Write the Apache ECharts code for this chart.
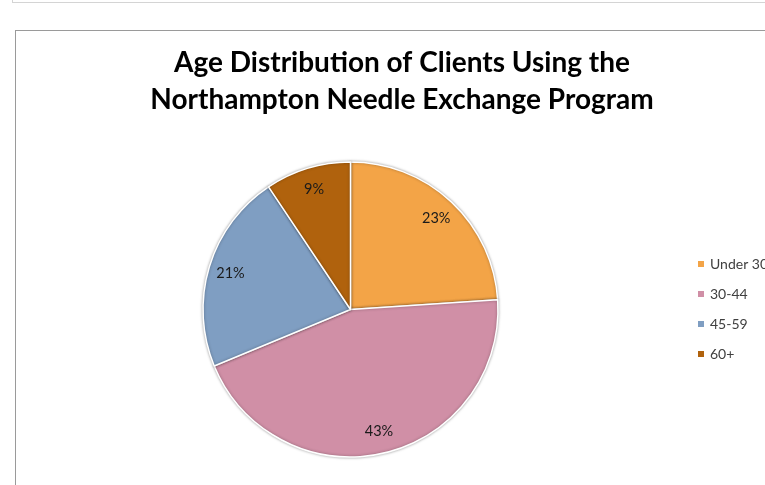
<!DOCTYPE html>
<html><head><meta charset="utf-8">
<script src="https://cdn.jsdelivr.net/npm/echarts@6/dist/echarts.min.js"></script>
<style>
html,body{margin:0;padding:0;background:#fff;overflow:hidden}
#topbox{position:absolute;left:12px;top:-10px;width:800px;height:13px;border:1px solid #d4d4d4;box-sizing:border-box}
#chartbox{position:absolute;left:15px;top:30px;width:800px;height:500px;border:1px solid #9a9a9a;box-sizing:border-box}
#main{position:absolute;left:0;top:0;width:765px;height:485px}
</style></head>
<body>
<div id="topbox"></div>
<div id="chartbox"></div>
<div id="main"></div>
<script>
const titleLines = ['Age Distribution of Clients Using the', 'Northampton Needle Exchange Program'];
const categories = ['Under 30', '30-44', '45-59', '60+'];
const values = [23, 43, 21, 9];
const colors = ['#F3A447', '#D08FA6', '#7F9EC2', '#B0620D'];

const chart = echarts.init(document.getElementById('main'), null, {renderer: 'canvas'});
const data = categories.map((c, i) => ({name: c, value: values[i], itemStyle: {color: colors[i]}}));
const cx = 350.5, cy = 309.5, R = 147.5;
chart.setOption({
  animation: false,
  title: {
    text: titleLines.join('\n'),
    left: 402, top: 44, textAlign: 'center', padding: 0,
    textStyle: {fontFamily: 'Lato', fontWeight: 'bold', fontSize: 28, color: '#000', lineHeight: 37}
  },
  legend: {
    orient: 'vertical', left: 691, top: 252,
    itemWidth: 8, itemHeight: 8, itemGap: 16, icon: 'rect',
    textStyle: {fontFamily: 'Lato', fontSize: 14, color: '#404040'},
    data: categories
  },
  series: [
    {
      type: 'pie', center: [cx, cy], radius: [0, R], startAngle: 90, clockwise: true,
      label: {show: false}, labelLine: {show: false},
      itemStyle: {borderColor: '#fff', borderWidth: 1.5, shadowBlur: 3, shadowColor: 'rgba(0,0,0,0.35)'},
      emphasis: {disabled: true},
      data: data
    },
    {
      type: 'pie', center: [cx, cy], radius: [R * 0.66, R], startAngle: 90, clockwise: true,
      silent: true,
      itemStyle: {color: 'transparent', borderWidth: 0},
      label: {show: true, position: 'inside', formatter: p => p.value + '%',
        fontFamily: 'Lato', fontSize: 14.5, color: '#1a1a1a'},
      labelLine: {show: false},
      emphasis: {disabled: true},
      data: categories.map((c, i) => ({name: c, value: values[i]}))
    }
  ]
});
</script>
</body></html>
